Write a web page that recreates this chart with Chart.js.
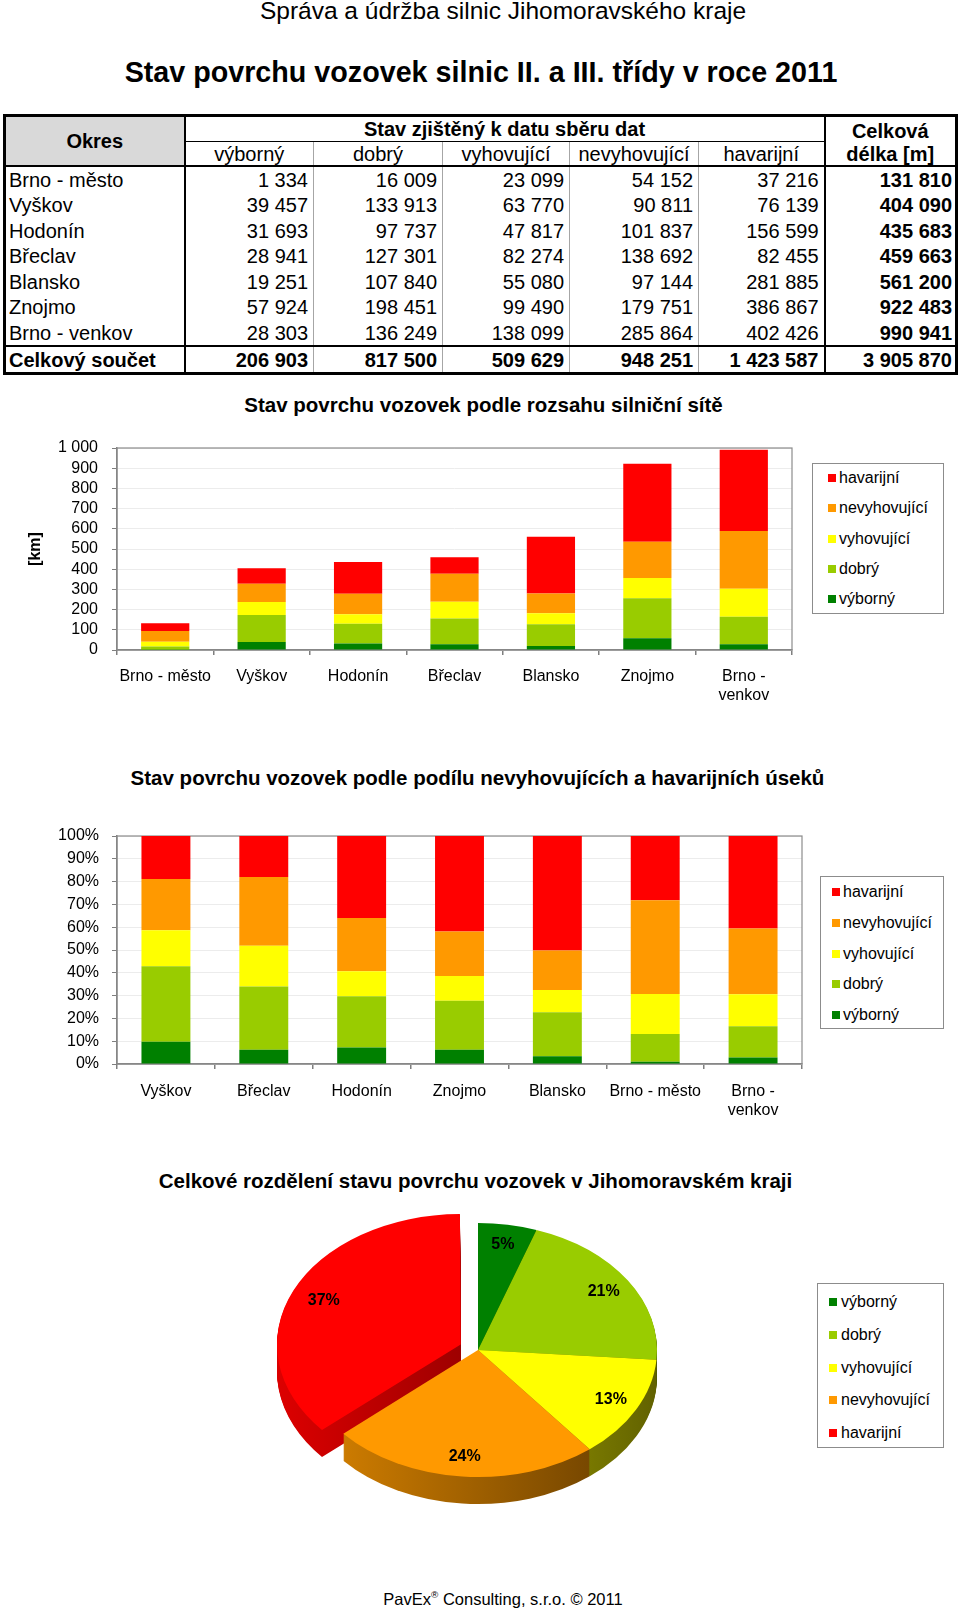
<!DOCTYPE html>
<html><head><meta charset="utf-8">
<script src="https://cdn.jsdelivr.net/npm/chart.js@4.4.1/dist/chart.umd.min.js"></script>
<style>
html,body{margin:0;padding:0;background:#fff;}
body{width:960px;height:1612px;position:relative;overflow:hidden;font-family:'Liberation Sans',Arial,Helvetica,sans-serif;color:#000;}
.t{position:absolute;white-space:nowrap;line-height:1;text-align:center;width:960px;}
canvas{position:absolute;left:0;}
#tbl{position:absolute;left:3px;top:114px;width:952px;border-collapse:collapse;table-layout:fixed;font-size:20px;border:3px solid #000;}
#tbl td{padding:0;white-space:nowrap;line-height:20px;overflow:hidden;}
#tbl td.name{text-align:left;padding-left:3px;border-right:2px solid #000;}
#tbl td.num{text-align:right;padding-right:5px;border-left:1px solid #a6a6a6;}
#tbl td.tot{text-align:right;padding-right:3px;font-weight:bold;border-left:2px solid #000;}
#tbl tr.d td{height:25px;}
#tbl tr.d.tall td{height:26px;}
#tbl tr.sum td{font-weight:bold;border-top:2px solid #000;height:25px;}
#tbl td.okres{background:#d9d9d9;font-weight:bold;text-align:center;border-right:2px solid #000;border-bottom:2px solid #000;}
#tbl td.stav{font-weight:bold;text-align:center;border-bottom:1px solid #000;height:24px;}
#tbl td.celk1{font-weight:bold;text-align:center;border-left:2px solid #000;height:24px;overflow:visible;}
#tbl td.celk2{font-weight:bold;text-align:center;border-left:2px solid #000;overflow:visible;}
#tbl td.celk1 span{position:relative;top:2px;}
#tbl td.celk2 span{position:relative;top:1px;}
#tbl tr.h2 td{height:23px;text-align:center;border-bottom:2px solid #000;}
#tbl tr.h2 td.sub + td.sub{border-left:1px solid #a6a6a6;}
.lg{position:absolute;border:1px solid #8c8c8c;box-sizing:border-box;background:#fff;}
.lg .it{position:absolute;height:20px;line-height:20px;font-size:16px;white-space:nowrap;}
.lg .mk{position:absolute;width:8px;height:8px;}
</style>
</head><body>
<div class="t" style="left:23px;top:-1px;font-size:24.5px;">Správa a údržba silnic Jihomoravského kraje</div>
<div class="t" style="left:1px;top:58px;font-size:28.7px;font-weight:bold;">Stav povrchu vozovek silnic II. a III. třídy v roce 2011</div>
<table id="tbl"></table>
<div class="t" style="left:3.5px;top:394.6px;font-size:20.5px;font-weight:bold;">Stav povrchu vozovek podle rozsahu silniční sítě</div>
<canvas id="c1" width="960" height="300" style="top:420px"></canvas>
<div id="lg1" class="lg" style="left:812px;top:463px;width:132px;height:151px;"></div>
<div class="t" style="left:-2.5px;top:767.6px;font-size:20.5px;font-weight:bold;">Stav povrchu vozovek podle podílu nevyhovujících a havarijních úseků</div>
<canvas id="c2" width="960" height="330" style="top:800px"></canvas>
<div id="lg2" class="lg" style="left:820px;top:876px;width:124px;height:153px;"></div>
<div class="t" style="left:-4.5px;top:1170.6px;font-size:20.5px;font-weight:bold;">Celkové rozdělení stavu povrchu vozovek v Jihomoravském kraji</div>
<canvas id="c3" width="960" height="320" style="top:1200px"></canvas>
<div id="lg3" class="lg" style="left:817px;top:1283px;width:127px;height:165px;"></div>
<div class="t" style="left:23px;top:1590px;font-size:16.5px;">PavEx<sup style="font-size:0.6em;vertical-align:0.7em;">®</sup> Consulting, s.r.o. © 2011</div>
<script>
// ---------- data (values in metres) ----------
const districts = ['Brno - město','Vyškov','Hodonín','Břeclav','Blansko','Znojmo','Brno - venkov'];
const conditions = ['výborný','dobrý','vyhovující','nevyhovující','havarijní'];
const conditionColors = ['#008000','#99CC00','#FFFF00','#FF9900','#FF0000'];
const vyborny      = [1334, 39457, 31693, 28941, 19251, 57924, 28303];
const dobry        = [16009, 133913, 97737, 127301, 107840, 198451, 136249];
const vyhovujici   = [23099, 63770, 47817, 82274, 55080, 99490, 138099];
const nevyhovujici = [54152, 90811, 101837, 138692, 97144, 179751, 285864];
const havarijni    = [37216, 76139, 156599, 82455, 281885, 386867, 402426];
const shareOrder = ['Vyškov','Břeclav','Hodonín','Znojmo','Blansko','Brno - město','Brno - venkov'];
const kmAxis = {min:0, max:1000, step:100};
const pctAxis = {min:0, max:100, step:10};
const piePercentLabels = ['5%','21%','13%','24%','37%'];
const tableHeaders = {okres:'Okres', stav:'Stav zjištěný k datu sběru dat', celk1:'Celková', celk2:'délka [m]', sum:'Celkový součet'};

const series = [vyborny, dobry, vyhovujici, nevyhovujici, havarijni];
const fmt = n => String(Math.round(n)).replace(/\B(?=(\d{3})+(?!\d))/g, ' ');
const rowTotals = districts.map((d, j) => series.reduce((a, s) => a + s[j], 0));
const colTotals = series.map(s => s.reduce((a, b) => a + b, 0));
const grand = colTotals.reduce((a, b) => a + b, 0);

// ---------- table ----------
(function(){
  let h = '<colgroup><col style="width:180px"><col style="width:129px"><col style="width:129px"><col style="width:127px"><col style="width:129px"><col style="width:126px"><col style="width:132px"></colgroup>';
  h += `<tr><td class="okres" rowspan="2">${tableHeaders.okres}</td><td class="stav" colspan="5">${tableHeaders.stav}</td><td class="celk1"><span>${tableHeaders.celk1}</span></td></tr>`;
  h += '<tr class="h2">' + conditions.map(c => `<td class="sub">${c}</td>`).join('') + `<td class="celk2"><span>${tableHeaders.celk2}</span></td></tr>`;
  districts.forEach((d, j) => {
    h += `<tr class="d${j % 2 ? ' tall' : ''}"><td class="name">${d}</td>` + series.map(s => `<td class="num">${fmt(s[j])}</td>`).join('') + `<td class="tot">${fmt(rowTotals[j])}</td></tr>`;
  });
  h += `<tr class="sum"><td class="name">${tableHeaders.sum}</td>` + colTotals.map(v => `<td class="num">${fmt(v)}</td>`).join('') + `<td class="tot">${fmt(grand)}</td></tr>`;
  document.getElementById('tbl').innerHTML = h;
})();

// ---------- legends ----------
function legend(id, order, firstY, step, mkX, txX){
  const el = document.getElementById(id);
  order.forEach((i, k) => {
    const cy = firstY + k * step;
    el.insertAdjacentHTML('beforeend',
      `<div class="mk" style="left:${mkX}px;top:${cy-4}px;background:${conditionColors[i]}"></div>` +
      `<div class="it" style="left:${txX}px;top:${cy-10}px">${conditions[i]}</div>`);
  });
}
legend('lg1', [4,3,2,1,0], 14, 30.25, 15, 26);
legend('lg2', [4,3,2,1,0], 15, 30.75, 11, 22);
legend('lg3', [0,1,2,3,4], 18, 32.8, 11, 23);

// ---------- charts ----------
Chart.defaults.font.family = "'Liberation Sans', Arial, sans-serif";
Chart.defaults.color = '#000';
Chart.defaults.animation = false;
const AXIS = '#7f7f7f';
const wrap = l => l.length > 12 ? l.replace(/ (\S+)$/, '\n$1').split('\n') : l;

const plotBorder = {
  id: 'plotBorder',
  beforeDatasetsDraw(chart){
    const {ctx, chartArea: a} = chart;
    ctx.save();
    ctx.strokeStyle = '#8c8c8c'; ctx.lineWidth = 1.2;
    ctx.strokeRect(a.left, a.top, a.right - a.left, a.bottom - a.top);
    ctx.restore();
  }
};

function barOptions(padTop, padRight, xHeight, xPad, yAxis, yPad, yFmt, yTitle){
  return {
    responsive: false, animation: false,
    layout: {padding: {top: padTop, right: padRight, bottom: 0, left: 0}},
    plugins: {legend: {display: false}, tooltip: {enabled: false}},
    scales: {
      x: {
        stacked: true,
        grid: {display: true, drawOnChartArea: false, offset: true, tickLength: 5, tickColor: AXIS, lineWidth: 1.5},
        border: {color: AXIS, width: 1.5},
        ticks: {font: {size: 16}, padding: xPad, maxRotation: 0, autoSkip: false,
          callback: function(v){ return wrap(this.getLabelForValue(v)); }},
        afterFit(s){ s.height = xHeight; }
      },
      y: {
        stacked: true, min: yAxis.min, max: yAxis.max,
        ticks: {stepSize: yAxis.step, autoSkip: false, font: {size: 16}, padding: yPad, callback: yFmt},
        grid: {color: '#ececec', tickColor: AXIS, tickLength: 5},
        border: {color: AXIS, width: 1.5},
        title: yTitle ? {display: true, text: yTitle, font: {size: 16, weight: 'bold'}, padding: {top: 26, bottom: 0}} : {display: false},
        afterFit(s){ s.width = 117; }
      }
    }
  };
}

new Chart(document.getElementById('c1'), {
  type: 'bar',
  data: {
    labels: districts,
    datasets: conditions.map((c, i) => ({
      label: c, data: series[i].map(v => v / 1000),
      backgroundColor: conditionColors[i], borderWidth: 0,
      barPercentage: 0.5, categoryPercentage: 1
    }))
  },
  options: barOptions(28, 168, 70, 12, kmAxis, 14, v => fmt(v), '[km]'),
  plugins: [plotBorder]
});

new Chart(document.getElementById('c2'), {
  type: 'bar',
  data: {
    labels: shareOrder,
    datasets: conditions.map((c, i) => ({
      label: c,
      data: shareOrder.map(d => { const j = districts.indexOf(d); return series[i][j] / rowTotals[j] * 100; }),
      backgroundColor: conditionColors[i], borderWidth: 0,
      barPercentage: 0.5, categoryPercentage: 1
    }))
  },
  options: barOptions(36, 158, 66, 13, pctAxis, 13, v => v + '%', null),
  plugins: [plotBorder]
});

// ---------- 3D-looking pie ----------
const SQUASH = 0.71, DEPTH = 27;
function shade(hex, f){
  const n = parseInt(hex.slice(1), 16);
  const r = Math.round(((n >> 16) & 255) * f), g = Math.round(((n >> 8) & 255) * f), b = Math.round((n & 255) * f);
  return `rgb(${r},${g},${b})`;
}
function squash(ctx, cx, cy){ ctx.translate(cx, cy); ctx.scale(1, SQUASH); ctx.translate(-cx, -cy); }
const pie3d = {
  id: 'pie3d',
  beforeDatasetsDraw(chart){
    const ctx = chart.ctx, arcs = chart.getDatasetMeta(0).data;
    const cx = arcs[0].x, cy = arcs[0].y, R = arcs[0].outerRadius;
    [0, 1, 4, 2, 3].forEach(i => {
      const arc = arcs[i], base = conditionColors[i];
      const g = ctx.createLinearGradient(cx - R, 0, cx + R, 0);
      g.addColorStop(0, shade(base, 0.86));
      g.addColorStop(1, shade(base, 0.38));
      const fake = Object.create(arc);
      fake.options = Object.assign({}, arc.options, {backgroundColor: g, borderColor: g});
      for (let d = DEPTH; d >= 1; d--) {
        ctx.save(); ctx.translate(0, d); squash(ctx, cx, cy); fake.draw(ctx); ctx.restore();
      }
    });
    ctx.save(); squash(ctx, cx, cy);
  },
  afterDatasetsDraw(chart){
    const ctx = chart.ctx; ctx.restore();
    const arcs = chart.getDatasetMeta(0).data;
    ctx.save();
    ctx.font = "bold 16px 'Liberation Sans', Arial, sans-serif";
    ctx.fillStyle = '#000'; ctx.textAlign = 'center'; ctx.textBaseline = 'middle';
    arcs.forEach((arc, i) => {
      const mid = (arc.startAngle + arc.endAngle) / 2;
      const off = (arc.options.offset || 0) / 4;
      const r = arc.outerRadius * 0.84 + off;
      ctx.fillText(piePercentLabels[i], arc.x + Math.cos(mid) * r, arc.y + Math.sin(mid) * r * SQUASH);
    });
    ctx.restore();
  }
};
new Chart(document.getElementById('c3'), {
  type: 'pie',
  data: {
    labels: conditions,
    datasets: [{data: colTotals, backgroundColor: conditionColors, borderWidth: 0, offset: [0, 0, 0, 0, 76], radius: 179, clip: false}]
  },
  options: {
    responsive: false, animation: false,
    layout: {padding: {left: 0, right: 4, top: 0, bottom: 20}},
    plugins: {legend: {display: false}, tooltip: {enabled: false}}
  },
  plugins: [pie3d]
});
</script>
</body></html>
